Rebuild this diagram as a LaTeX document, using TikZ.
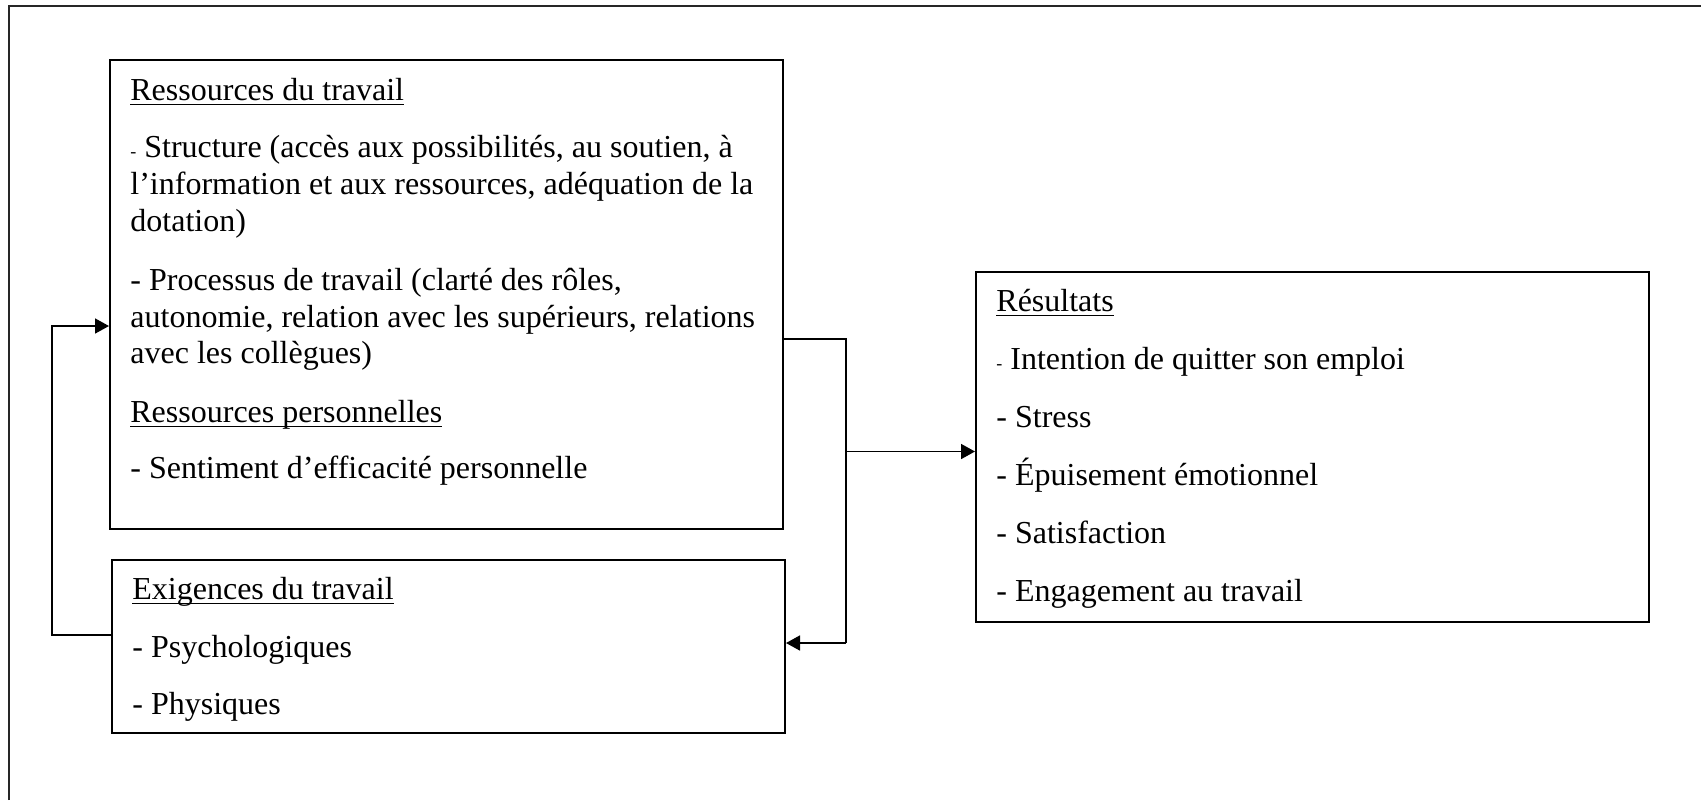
\documentclass[tikz,border=0pt]{standalone}
\usepackage{fontspec}
\setmainfont{Liberation Serif}
\usetikzlibrary{arrows.meta,fit}
\newcommand\ulx[1]{\setbox0\hbox{#1}\rlap{\rule[-2.7pt]{\wd0}{0.75pt}}\box0}
\newcommand\smdash{{\fontsize{9pt}{9pt}\selectfont -}}
\tikzset{
  boxed/.style={draw, line width=1pt, inner sep=0pt},
  txt/.style={anchor=base west, inner sep=0pt, font=\fontsize{16pt}{18pt}\selectfont},
  conn/.style={line width=0.85pt},
  arr/.style={conn, -{Triangle[length=7pt,width=7.5pt]}}
}
\begin{document}
\begin{tikzpicture}[x=0.5pt,y=-0.5pt]
\useasboundingbox (0,0) rectangle (1701,800);
% outer frame (top and left only)
\draw[line width=0.9pt, black!85] (9,800) -- (9,6) -- (1701,6);
% boxes
\node[boxed, fit={(110,60) (783,529)}] (res) {};
\node[boxed, fit={(112,560) (785,733)}] (exi) {};
\node[boxed, fit={(976,272) (1649,622)}] (out) {};
% box 1 text
\node[txt] (r1) at (130,100) {\ulx{Ressources du travail}};
\node[txt] (r2) at (130,157) {\smdash{} Structure (accès aux possibilités, au soutien, à};
\node[txt] (r3) at (130,194) {l’information et aux ressources, adéquation de la};
\node[txt] (r4) at (130,231) {dotation)};
\node[txt] (r5) at (130,290) {- Processus de travail (clarté des rôles,};
\node[txt] (r6) at (130,327) {autonomie, relation avec les supérieurs, relations};
\node[txt] (r7) at (130,363) {avec les collègues)};
\node[txt] (r8) at (130,422) {\ulx{Ressources personnelles}};
\node[txt] (r9) at (130,478) {- Sentiment d’efficacité personnelle};
% box 2 text
\node[txt] (e1) at (132,599) {\ulx{Exigences du travail}};
\node[txt] (e2) at (132,657) {- Psychologiques};
\node[txt] (e3) at (132,714) {- Physiques};
% box 3 text
\node[txt] (o1) at (996,311) {\ulx{Résultats}};
\node[txt] (o2) at (996,369) {\smdash{} Intention de quitter son emploi};
\node[txt] (o3) at (996,427) {- Stress};
\node[txt] (o4) at (996,485) {- Épuisement émotionnel};
\node[txt] (o5) at (996,543) {- Satisfaction};
\node[txt] (o6) at (996,601) {- Engagement au travail};
% connector coordinates
\coordinate (j1) at (846,339);
\coordinate (j2) at (846,643);
\coordinate (j3) at (846,451.5);
\coordinate (l1) at (52,635);
\coordinate (l2) at (52,326);
% connectors
\draw[conn] (res.east |- j1) -- (j1) -- (j2);
\draw[arr] (j2) -- (exi.east |- j2);
\draw[arr] (j3) -- (out.west |- j3);
\draw[arr] (exi.west |- l1) -- (l1) -- (l2) -- (res.west |- l2);
\end{tikzpicture}
\end{document}
